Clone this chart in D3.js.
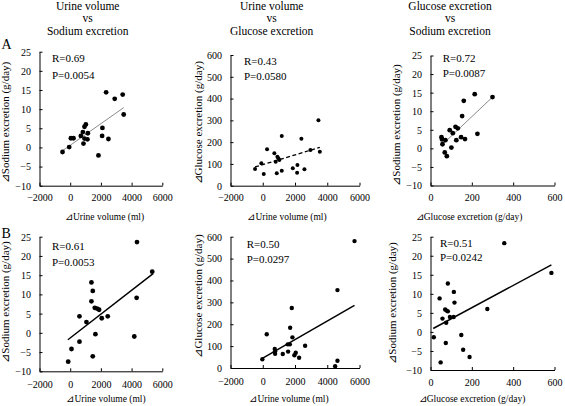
<!DOCTYPE html>
<html><head><meta charset="utf-8">
<script src="https://cdn.jsdelivr.net/npm/d3@7"></script>
<style>
html,body{margin:0;padding:0;background:#fff;}
svg text{font-family:"Liberation Serif","Times New Roman",serif;fill:#000;}
</style></head>
<body><svg id="c" width="565" height="406"></svg>
<script>
// ---- data ----
const columnTitles = [["Urine volume","vs","Sodium excretion"],["Urine volume","vs","Glucose excretion"],["Glucose excretion","vs","Sodium excretion"]];
const rowLabels = ["A","B"];
const urineTicks = [-2000,0,2000,4000,6000];
const glucoseTicks = [0,200,400,600];
const sodiumTicks = [-10,-5,0,5,10,15,20,25];
const glucoseYTicks = [0,100,200,300,400,500,600];

const a1Urine  = [-500,-65,45,215,695,825,930,1020,865,930,1125,1150,1840,2080,2100,2340,2490,2900,3420,3485];
const a1Sodium = [-1.2,0.1,2.4,2.4,3.0,4.0,5.4,6.0,1.0,2.3,2.1,3.7,-2.1,3.0,5.1,14.4,2.2,12.7,13.8,8.6];
const a1Trend  = {x:[-550,3490], y:[-1.0,10.4]};

const a2Urine   = [-478,-87,62,267,720,803,907,969,869,1030,1180,1180,1863,2150,2130,2397,2584,2956,3453,3540];
const a2Glucose = [77,103,54,167,149,110,133,126,57,118,228,69,80,95,60,216,75,164,300,156];
const a2Trend   = {x:[-478,3540], y:[86,176]};

const a3Glucose = [53,56,58,72,69,79,93,101,108,121,132,125,148,153,161,167,214,227,300];
const a3Sodium  = [3.0,2.4,1.1,2.2,-1.1,-2.1,4.9,0.2,4.1,5.8,5.4,2.2,3.0,8.7,12.8,2.5,14.6,3.9,13.8];
const a3Trend   = {x:[53,300], y:[0.8,13.8]};

const b1Urine  = [-130,84,604,604,1058,1383,1470,1383,1600,1750,1883,1642,1470,2056,2445,4175,4327,4350,5344];
const b1Sodium = [-7.5,-4.2,-2.3,4.3,2.8,13.1,10.9,8.2,6.5,6.3,6.0,-0.35,-6.1,3.8,4.3,-0.95,9.1,23.6,15.9];
const b1Trend  = {x:[-150,5400], y:[-1.8,15.4]};

const b2Urine   = [-25,248,745,766,766,1242,1571,1550,1680,1700,1800,1840,1963,2046,2254,2627,4490,4633,4633,5690];
const b2Glucose = [40,154,87,65,76,64,75,108,108,184,274,140,58,70,47,102,8,33,356,580];
const b2Trend   = {x:[-25,5690], y:[44,286]};

const b3Glucose = [16,44,49,58,71,78,76,74,84,84,94,112,113,116,149,158,189,275,357,585];
const b3Sodium  = [-1.4,8.8,-8.0,3.5,5.9,5.6,2.4,-2.9,5.4,12.7,3.9,3.9,10.5,7.7,-0.8,-4.7,-6.6,6.0,23.3,15.5];
const b3Trend   = {x:[13,585], y:[0.9,17.6]};

const statR = ["R=0.69","R=0.43","R=0.72","R=0.61","R=0.50","R=0.51"];
const statP = ["P=0.0054","P=0.0580","P=0.0087","P=0.0053","P=0.0297","P=0.0242"];

const xTitleUrine = "\u22BFUrine volume (ml)";
const xTitleGlucose = "\u22BFGlucose excretion (g/day)";
const yTitleSodium = "\u22BFSodium excretion (g/day)";
const yTitleGlucose = "\u22BFGlucose excretion (g/day)";

// ---- layout (positions & styles) ----
const layout = [
 {xr:[39.5,162.3], yr:[185.7,51.7], sx:52, sy:[62,78.5], xtc:104.5, xtb:220, ytx:9, ytc:122.5, pad:8, r:2.4, line:{stroke:"#8c8c8c",w:1,dash:null}},
 {xr:[230.5,359.5], yr:[185.7,55], sx:244, sy:[65,79.5], xtc:287, xtb:219.5, ytx:202, ytc:122.8, pad:8, r:2.0, line:{stroke:"#000",w:1.3,dash:"4,2.5"}},
 {xr:[430.5,554.5], yr:[185.5,55.5], sx:442.7, sy:[62,77], xtc:469, xtb:220, ytx:400, ytc:125, pad:8, r:2.4, line:{stroke:"#8c8c8c",w:1,dash:null}},
 {xr:[39.5,162.3], yr:[371.3,236.7], sx:52, sy:[250,265.5], xtc:106, xtb:402, ytx:9, ytc:302, pad:9.5, r:2.4, line:{stroke:"#000",w:1.5,dash:null}},
 {xr:[230.5,359.5], yr:[368,236.7], sx:246.7, sy:[247.5,262.5], xtc:289, xtb:402, ytx:202, ytc:296, pad:10, r:2.2, line:{stroke:"#000",w:1.5,dash:null}},
 {xr:[430.5,554.5], yr:[370,236.7], sx:440, sy:[246.5,260.7], xtc:472, xtb:402, ytx:396, ytc:303, pad:9, r:2.2, line:{stroke:"#000",w:1.5,dash:null}}
];

const panels = [
 {xs:a1Urine, ys:a1Sodium, trend:a1Trend, xd:[-2000,6000], yd:[-10,25], xt:urineTicks, yt:sodiumTicks, xl:xTitleUrine, yl:yTitleSodium},
 {xs:a2Urine, ys:a2Glucose, trend:a2Trend, xd:[-2000,6000], yd:[0,600], xt:urineTicks, yt:glucoseYTicks, xl:xTitleUrine, yl:yTitleGlucose},
 {xs:a3Glucose, ys:a3Sodium, trend:a3Trend, xd:[0,600], yd:[-10,25], xt:glucoseTicks, yt:sodiumTicks, xl:xTitleGlucose, yl:yTitleSodium},
 {xs:b1Urine, ys:b1Sodium, trend:b1Trend, xd:[-2000,6000], yd:[-10,25], xt:urineTicks, yt:sodiumTicks, xl:xTitleUrine, yl:yTitleSodium},
 {xs:b2Urine, ys:b2Glucose, trend:b2Trend, xd:[-2000,6000], yd:[0,600], xt:urineTicks, yt:glucoseYTicks, xl:xTitleUrine, yl:yTitleGlucose},
 {xs:b3Glucose, ys:b3Sodium, trend:b3Trend, xd:[0,600], yd:[-10,25], xt:glucoseTicks, yt:sodiumTicks, xl:xTitleGlucose, yl:yTitleSodium}
];

const svg = d3.select("#c");

// column titles
const titleCenters = [87.7, 271.7, 450];
const titleBaselines = [9.5, 22.3, 35.1];
columnTitles.forEach((lines,i)=>{
  lines.forEach((t,j)=>{
    svg.append("text").attr("x",titleCenters[i]).attr("y",titleBaselines[j])
      .attr("text-anchor","middle").attr("font-size",11.5).text(t);
  });
});
// row labels
const rowLabelY = [49, 238];
rowLabels.forEach((t,i)=>{
  svg.append("text").attr("x",1.5).attr("y",rowLabelY[i]).attr("font-size",14).text(t);
});

panels.forEach((p,i)=>{
  const L = layout[i];
  const x = d3.scaleLinear().domain(p.xd).range(L.xr);
  const y = d3.scaleLinear().domain(p.yd).range(L.yr);
  const g = svg.append("g");

  const xa = g.append("g").attr("transform",`translate(0,${L.yr[0]})`)
    .call(d3.axisBottom(x).tickValues(p.xt).tickFormat(d3.format("d")).tickSizeInner(-3).tickSizeOuter(0).tickPadding(L.pad));
  const ya = g.append("g").attr("transform",`translate(${L.xr[0]},0)`)
    .call(d3.axisLeft(y).tickValues(p.yt).tickFormat(d3.format("d")).tickSizeInner(-3).tickSizeOuter(0).tickPadding(8.5));
  [xa,ya].forEach(a=>{
    a.selectAll("path").attr("stroke","#000").attr("stroke-width",1);
    a.selectAll("line").attr("stroke","#000").attr("stroke-width",1);
    a.selectAll("text").attr("font-size",10).attr("fill","#000");
    a.attr("font-family",null).attr("font-size",null);
  });
  ya.selectAll("text").attr("dy","0.34em");

  // trend line
  const tl = g.append("line")
    .attr("x1",x(p.trend.x[0])).attr("y1",y(p.trend.y[0]))
    .attr("x2",x(p.trend.x[1])).attr("y2",y(p.trend.y[1]))
    .attr("stroke",L.line.stroke).attr("stroke-width",L.line.w);
  if(L.line.dash) tl.attr("stroke-dasharray",L.line.dash);

  // points
  g.selectAll("circle.pt").data(p.xs.map((v,k)=>[v,p.ys[k]])).enter().append("circle")
    .attr("cx",d=>x(d[0])).attr("cy",d=>y(d[1])).attr("r",L.r).attr("fill","#000");

  // stats
  g.append("text").attr("x",L.sx).attr("y",L.sy[0]).attr("font-size",11).text(statR[i]);
  g.append("text").attr("x",L.sx).attr("y",L.sy[1]).attr("font-size",11).text(statP[i]);

  // axis titles
  g.append("text").attr("x",L.xtc).attr("y",L.xtb).attr("text-anchor","middle").attr("font-size",9.5).text(p.xl);
  g.append("text").attr("transform",`translate(${L.ytx},${L.ytc}) rotate(-90)`)
    .attr("text-anchor","middle").attr("font-size",11).text(p.yl);
});
</script></body></html>
